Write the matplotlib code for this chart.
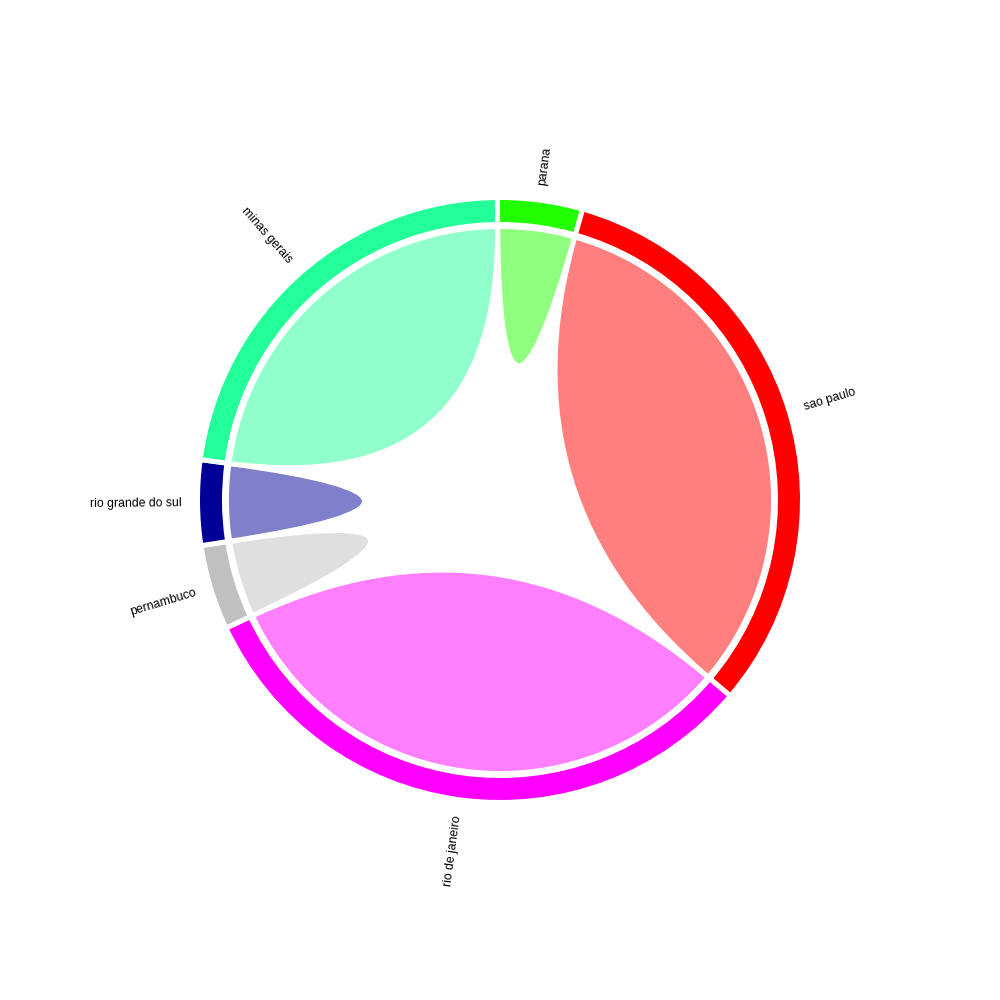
import numpy as np
import matplotlib.pyplot as plt
from matplotlib.path import Path
from matplotlib.patches import PathPatch, Wedge

# 弦图（每个州只连自己）
states = ["parana", "sao paulo", "rio de janeiro", "pernambuco",
          "rio grande do sul", "minas gerais"]
values = [1, 7, 7, 1, 1, 5]
colors = ["#22ff00", "#ff0000", "#ff00ff", "#c0c0c0", "#000099", "#22ff99"]

plt.rcParams['font.family'] = ['Liberation Sans', 'DejaVu Sans']

fig = plt.figure(figsize=(10, 10), dpi=100)
ax = fig.add_axes([0, 0, 1, 1])
ax.set_xlim(-500, 500)
ax.set_ylim(-500, 500)
ax.set_aspect('equal')
ax.axis('off')

r_out, r_in, r_chord = 302.5, 275.5, 273.5
lw = 3.6
unit = 360.0 / sum(values)

start = 90.5
for name, v, c in zip(states, values, colors):
    t1 = start - v * unit   # 顺时针
    t2 = start
    # 外圈
    ax.add_patch(Wedge((0, 0), r_out, t1, t2, width=r_out - r_in,
                       facecolor=c, edgecolor='white', linewidth=lw))
    # 自连弦
    th = np.radians(np.linspace(t1, t2, 80))
    pts = list(zip(r_chord * np.cos(th), r_chord * np.sin(th)))
    codes = [Path.MOVETO] + [Path.LINETO] * (len(pts) - 1)
    pts += [(0, 0), pts[0]]
    codes += [Path.CURVE3, Path.CURVE3]
    ax.add_patch(PathPatch(Path(pts, codes), facecolor=c, alpha=0.5,
                           edgecolor='none'))
    ax.add_patch(PathPatch(Path(pts, codes), facecolor='none',
                           edgecolor='white', linewidth=lw))
    # 标签
    mid = (t1 + t2) / 2
    a = np.radians(mid)
    x, y = 318 * np.cos(a), 318 * np.sin(a)
    if np.cos(a) >= 0:
        rot, ha = mid, 'left'
    else:
        rot, ha = mid + 180, 'right'
    ax.text(x, y, name, rotation=rot, ha=ha, va='center',
            rotation_mode='anchor', fontsize=8.8)
    start = t1

plt.savefig("out.png", dpi=100)
